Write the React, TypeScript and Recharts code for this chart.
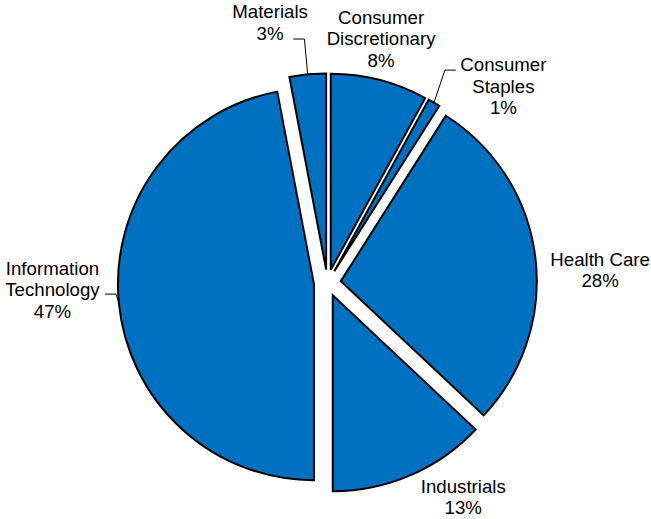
import type { JSX } from 'react';
import { Pie, PieChart, Sector } from 'recharts';

const sectorNames = [
  'Consumer Discretionary',
  'Consumer Staples',
  'Health Care',
  'Industrials',
  'Information Technology',
  'Materials',
];
const sectorWeights = [8, 1, 28, 13, 47, 3];
const labelLines = [
  ['Consumer', 'Discretionary'],
  ['Consumer', 'Staples'],
  ['Health Care'],
  ['Industrials'],
  ['Information', 'Technology'],
  ['Materials'],
];

const chartData = sectorNames.map((name, i) => ({ name, value: sectorWeights[i] }));

const EXPLODE = 13.5;
const RAD = Math.PI / 180;
const FONT = '"Liberation Sans", Arial, sans-serif';
const FONT_SIZE = 18.67;
const LINE_HEIGHT = 21.5;

// label centres: degrees clockwise from 12 o'clock, distance from pie centre
const labelSpots = [
  { angle: 12.4, dist: 250 },
  { angle: 41.8, dist: 264 },
  { angle: 87.3, dist: 273 },
  { angle: 147.6, dist: 253.6 },
  { angle: 268.6, dist: 275 },
  { angle: 347.6, dist: 266.8 },
];

// where a leader line meets its label, relative to the label centre
const leaderAnchors: Record<number, { dx: number; dy: number }> = {
  1: { dx: -47.5, dy: -16 },
  4: { dx: 52.5, dy: 4.5 },
  5: { dx: 23.3, dy: 16.7 },
};

function ExplodedSlice(props: any): JSX.Element {
  const { cx, cy, midAngle } = props;
  return (
    <Sector
      {...props}
      cx={cx + EXPLODE * Math.cos(-midAngle * RAD)}
      cy={cy + EXPLODE * Math.sin(-midAngle * RAD)}
    />
  );
}

function SliceLabel(props: any): JSX.Element {
  const { cx, cy, midAngle, outerRadius, index, value } = props;
  const spot = labelSpots[index];
  const lx = cx + spot.dist * Math.sin(spot.angle * RAD);
  const ly = cy - spot.dist * Math.cos(spot.angle * RAD);
  const lines = [...labelLines[index], `${value}%`];
  const anchor = leaderAnchors[index];

  let leader = null;
  if (anchor) {
    const r = EXPLODE + outerRadius;
    const px = cx + r * Math.cos(-midAngle * RAD);
    const py = cy + r * Math.sin(-midAngle * RAD);
    const ax = lx + anchor.dx;
    const ay = ly + anchor.dy;
    const ex = ax + (anchor.dx > 0 ? 11 : -11);
    leader = (
      <path
        d={`M${ax},${ay}L${ex},${ay}L${px},${py}`}
        fill="none"
        stroke="#000"
        strokeWidth={1}
      />
    );
  }

  return (
    <g>
      {leader}
      <text
        x={lx}
        y={ly}
        textAnchor="middle"
        fontFamily={FONT}
        fontSize={FONT_SIZE}
        fill="#000"
      >
        {lines.map((line, i) => (
          <tspan
            key={line}
            x={lx}
            y={ly + (i - (lines.length - 1) / 2) * LINE_HEIGHT}
            dominantBaseline="central"
          >
            {line}
          </tspan>
        ))}
      </text>
    </g>
  );
}

export default function App(): JSX.Element {
  return (
    <div style={{ position: 'absolute', left: 0, top: 0, width: 651, height: 519, background: '#fff' }}>
      <PieChart width={651} height={519} margin={{ top: 0, right: 0, bottom: 0, left: 0 }}>
        <Pie
          data={chartData}
          dataKey="value"
          nameKey="name"
          cx={327.4}
          cy={282.9}
          outerRadius={196}
          startAngle={90}
          endAngle={-270}
          fill="#0070C0"
          stroke="#000"
          strokeWidth={2}
          shape={ExplodedSlice}
          label={SliceLabel}
          labelLine={false}
          isAnimationActive={false}
        />
      </PieChart>
    </div>
  );
}
